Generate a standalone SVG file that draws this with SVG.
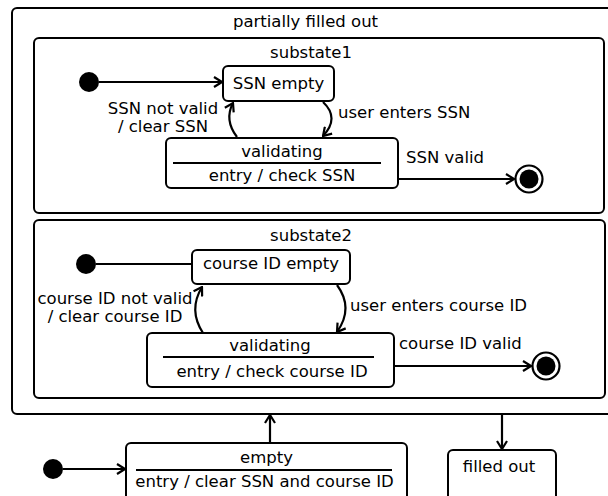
<svg xmlns="http://www.w3.org/2000/svg" width="608" height="496" viewBox="0 0 608 496">
<style>
text{font-family:"DejaVu Sans","Verdana",sans-serif;font-size:16.5px;fill:#000}
.c{text-anchor:middle}
.box{fill:#fff;stroke:#000;stroke-width:2}
.cont{fill:none;stroke:#000;stroke-width:2}
.div{stroke:#000;stroke-width:2}
.edge{fill:none;stroke:#000;stroke-width:2.2}
.init{fill:#000}
</style>
<defs>
<marker id="arr" viewBox="0 0 10 12" refX="9" refY="6" markerWidth="10" markerHeight="12" markerUnits="userSpaceOnUse" orient="auto">
<path d="M1,1 L9,6 L1,11" fill="none" stroke="#000" stroke-width="2.2"/>
</marker>
</defs>
<rect width="608" height="496" fill="#fff"/>
<g id="partially-filled-out">
<rect class="cont" x="12" y="8" width="610" height="406" rx="5"/>
<text class="c" x="305.5" y="27">partially filled out</text>
</g>
<g id="substate1">
<rect class="cont" x="34" y="38" width="570" height="175" rx="5"/>
<text class="c" x="311" y="58">substate1</text>
</g>
<g id="substate2">
<rect class="cont" x="34" y="220" width="571" height="178" rx="5"/>
<text class="c" x="311" y="241">substate2</text>
</g>
<g id="init1"><circle class="init" cx="89" cy="82" r="10"/></g>
<g id="ssn-empty">
<rect class="box" x="223" y="66" width="111" height="35" rx="5"/>
<text class="c" x="278.5" y="89">SSN empty</text>
</g>
<g id="validating1">
<rect class="box" x="166" y="138" width="232" height="50" rx="5"/>
<text class="c" x="282" y="157">validating</text>
<line class="div" x1="173" y1="163" x2="381" y2="163"/>
<text class="c" x="282" y="181">entry / check SSN</text>
</g>
<g id="final1">
<circle cx="529" cy="179" r="13.5" fill="#fff" stroke="#000" stroke-width="2.2"/>
<circle cx="529" cy="179" r="9.5" fill="#000"/>
</g>
<g id="init2"><circle class="init" cx="86" cy="264" r="10"/></g>
<g id="course-id-empty">
<rect class="box" x="192" y="250" width="158" height="34" rx="5"/>
<text class="c" x="271" y="269">course ID empty</text>
</g>
<g id="validating2">
<rect class="box" x="147" y="333" width="247" height="54" rx="5"/>
<text class="c" x="270" y="351">validating</text>
<line class="div" x1="163" y1="357" x2="374" y2="357"/>
<text class="c" x="272" y="377">entry / check course ID</text>
</g>
<g id="final2">
<circle cx="546" cy="366" r="13.5" fill="#fff" stroke="#000" stroke-width="2.2"/>
<circle cx="546" cy="366" r="9.5" fill="#000"/>
</g>
<g id="init3"><circle class="init" cx="53" cy="469" r="10"/></g>
<g id="empty">
<rect class="box" x="126" y="443" width="281" height="60" rx="5"/>
<text class="c" x="266.5" y="463">empty</text>
<line class="div" x1="136" y1="470" x2="392" y2="470"/>
<text class="c" x="264.5" y="487">entry / clear SSN and course ID</text>
</g>
<g id="filled-out">
<rect class="box" x="448" y="450" width="108" height="60" rx="5"/>
<text class="c" x="499" y="472">filled out</text>
</g>
<g id="connectors">
<path class="edge" d="M99,82 L222,82" marker-end="url(#arr)"/>
<path class="edge" d="M237,137 Q224,120 233,103" marker-end="url(#arr)"/>
<path class="edge" d="M323,102 Q340,118 323,136" marker-end="url(#arr)"/>
<path class="edge" d="M398,179 L514,179" marker-end="url(#arr)"/>
<path class="edge" d="M96,264 L192,264"/>
<path class="edge" d="M203,333 Q188,310 202,287" marker-end="url(#arr)"/>
<path class="edge" d="M337,285 Q354,308 337,332" marker-end="url(#arr)"/>
<path class="edge" d="M394,366 L531,366" marker-end="url(#arr)"/>
<path class="edge" d="M63,469 L125,469" marker-end="url(#arr)"/>
<path class="edge" d="M270,443 L270,415" marker-end="url(#arr)"/>
<path class="edge" d="M502,414 L502,449" marker-end="url(#arr)"/>
<text class="c" x="163" y="114">SSN not valid</text>
<text class="c" x="163" y="132">/ clear SSN</text>
<text x="338" y="118">user enters SSN</text>
<text x="406" y="163">SSN valid</text>
<text class="c" x="115" y="304">course ID not valid</text>
<text class="c" x="115" y="322">/ clear course ID</text>
<text x="350" y="311">user enters course ID</text>
<text x="399" y="349">course ID valid</text>
</g>
</svg>
